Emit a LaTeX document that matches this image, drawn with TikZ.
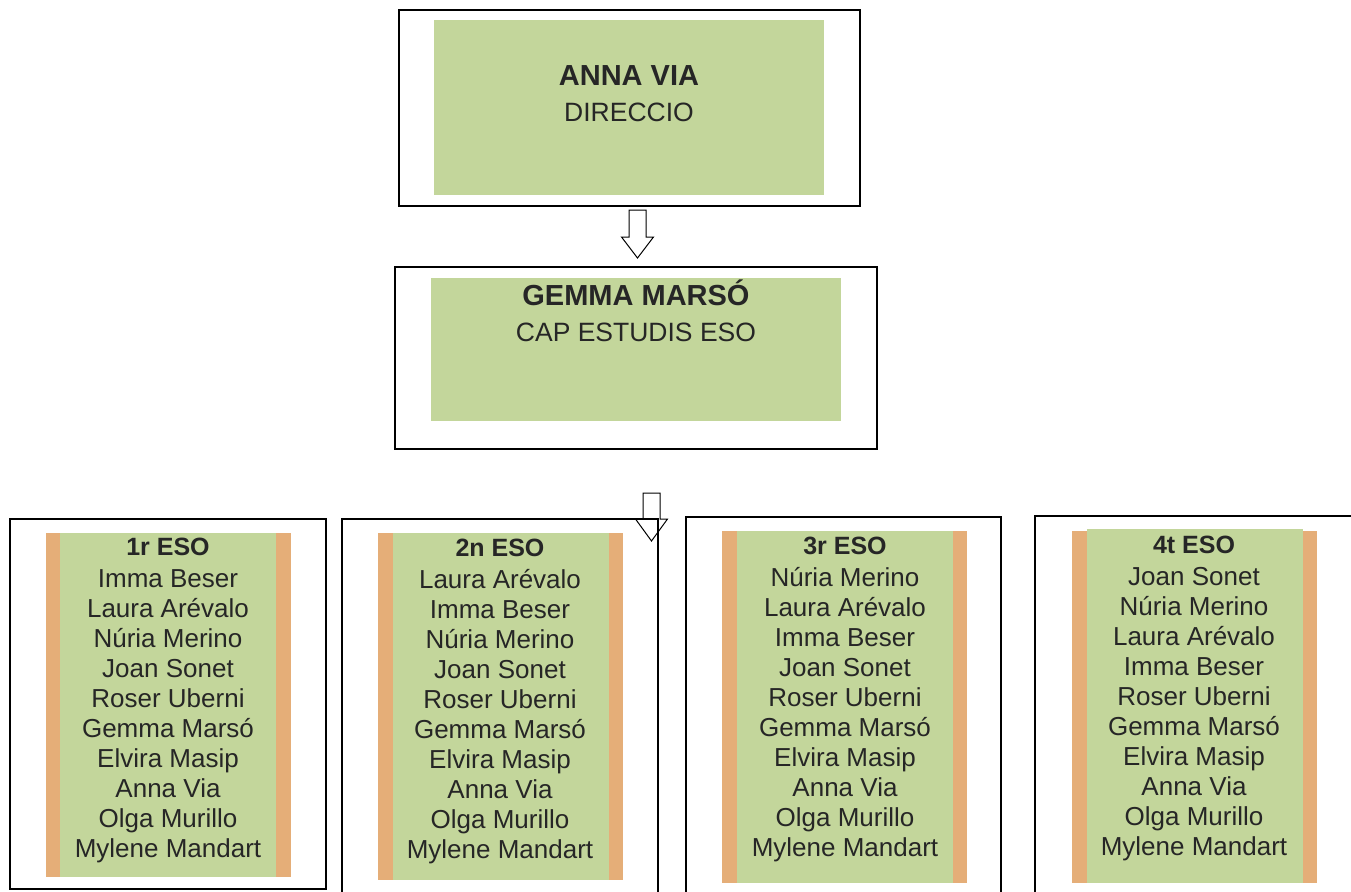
\documentclass[tikz,border=0pt]{standalone}
\usepackage{fontspec}
\setmainfont{Liberation Sans}
\usetikzlibrary{positioning}
\definecolor{leaf}{HTML}{C3D69B}
\definecolor{tan}{HTML}{E5AE78}
\definecolor{ink}{HTML}{262626}
\tikzstyle{frame} = [draw, rectangle, line width=1.6pt, inner sep=0]
\tikzstyle{panel} = [fill=leaf, rectangle, inner sep=0]
\tikzstyle{strip} = [fill=tan, rectangle, inner sep=0]
\tikzstyle{names} = [text=ink, align=center, inner sep=0, font=\fontsize{26}{30}\selectfont]
\tikzstyle{hollow} = [draw, fill=white, line width=1pt, line join=miter]
\newcommand{\grade}[1]{{\fontsize{25}{30}\selectfont\bfseries #1}\\[2pt]}

\begin{document}
\begin{tikzpicture}[x=1pt, y=-1pt]
	  \useasboundingbox (0,0) rectangle (1351,891);

	  % arrows
	  \coordinate (down1) at (637.5,210);
	  \coordinate (down2) at (651.5,493);
	  \draw [hollow] (down1) ++(-8.5,0) -- ++(17,0) -- ++(0,27) -- ++(7.5,0) -- ++(-16,21) -- ++(-16,-21) -- ++(7.5,0) -- cycle;
	  \draw [hollow] (down2) ++(-8.5,0) -- ++(17,0) -- ++(0,26) -- ++(7.5,0) -- ++(-16,22) -- ++(-16,-22) -- ++(7.5,0) -- cycle;

	  % direccio
	  \node [frame, minimum width=461pt, minimum height=196pt] (dir) at (629.5,108) {};
	  \node [panel, minimum width=390pt, minimum height=175pt] (dirpanel) at (629,107.5) {};
	  \node [names, anchor=north, font=\fontsize{26.5}{36.5}\selectfont] (dirtext) at (629,65.2)
	    {{\fontsize{29}{36.5}\selectfont\bfseries ANNA VIA}\\DIRECCIO};

	  % cap d'estudis
	  \node [frame, minimum width=482pt, minimum height=182pt] (cap) at (636,358) {};
	  \node [panel, minimum width=410pt, minimum height=143pt] (cappanel) at (636,349.5) {};
	  \node [names, anchor=north, font=\fontsize{26.5}{35.5}\selectfont] (captext) at (636,280)
	    {{\fontsize{29}{35.5}\selectfont\bfseries GEMMA MARSÓ}\\CAP ESTUDIS ESO};

	  % 1r ESO
	  \node [frame, minimum width=316pt, minimum height=370pt] (first) at (168,704) {};
	  \node [strip, minimum width=245pt, minimum height=344pt] (firststrip) at (168.5,705) {};
	  \node [panel, minimum width=216pt, minimum height=344pt] (firstpanel) at (168,705) {};
	  \node [names, anchor=north] (firsttext) at (168,538.3)
	    {\grade{1r ESO}Imma Beser\\Laura Arévalo\\Núria Merino\\Joan Sonet\\Roser Uberni\\Gemma Marsó\\Elvira Masip\\Anna Via\\Olga Murillo\\Mylene Mandart};

	  % 2n ESO
	  \node [frame, minimum width=316pt, minimum height=380pt] (second) at (500,709) {};
	  \node [strip, minimum width=245pt, minimum height=347pt] (secondstrip) at (500.5,706.5) {};
	  \node [panel, minimum width=216pt, minimum height=347pt] (secondpanel) at (501,706.5) {};
	  \node [names, anchor=north] (secondtext) at (500,539.3)
	    {\grade{2n ESO}Laura Arévalo\\Imma Beser\\Núria Merino\\Joan Sonet\\Roser Uberni\\Gemma Marsó\\Elvira Masip\\Anna Via\\Olga Murillo\\Mylene Mandart};

	  % 3r ESO
	  \node [frame, minimum width=315pt, minimum height=380pt] (third) at (843.5,707) {};
	  \node [strip, minimum width=245pt, minimum height=352pt] (thirdstrip) at (844.5,707) {};
	  \node [panel, minimum width=216pt, minimum height=352pt] (thirdpanel) at (845,707) {};
	  \node [names, anchor=north] (thirdtext) at (845,537.3)
	    {\grade{3r ESO}Núria Merino\\Laura Arévalo\\Imma Beser\\Joan Sonet\\Roser Uberni\\Gemma Marsó\\Elvira Masip\\Anna Via\\Olga Murillo\\Mylene Mandart};

	  % 4t ESO
	  \node [frame, minimum width=330pt, minimum height=380pt] (fourth) at (1200,706) {};
	  \node [strip, minimum width=245pt, minimum height=352pt] (fourthstrip) at (1194.5,707) {};
	  \node [panel, minimum width=216pt, minimum height=354pt] (fourthpanel) at (1195,706) {};
	  \node [names, anchor=north] (fourthtext) at (1194,536.3)
	    {\grade{4t ESO}Joan Sonet\\Núria Merino\\Laura Arévalo\\Imma Beser\\Roser Uberni\\Gemma Marsó\\Elvira Masip\\Anna Via\\Olga Murillo\\Mylene Mandart};
	\end{tikzpicture}
\end{document}
